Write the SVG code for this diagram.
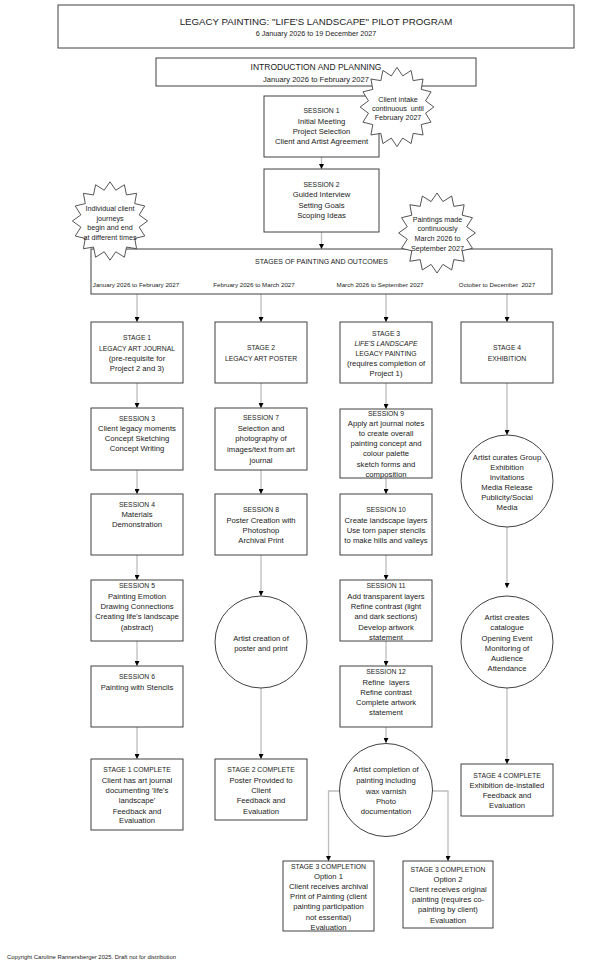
<svg xmlns="http://www.w3.org/2000/svg" xmlns:xlink="http://www.w3.org/1999/xlink" width="600" height="969" viewBox="0 0 600 969">
<style>
.box{fill:#fff;stroke:#404040;stroke-width:1}
.t{font-family:"Liberation Sans",Arial,sans-serif;font-size:7.7px;fill:#222;text-anchor:middle;dominant-baseline:central}
.h{font-size:6.8px}
.sb{font-size:7.2px}
.conn{stroke:#bdbdbd;stroke-width:1.3;fill:none;marker-end:url(#ah)}
</style>
<defs>
<marker id="ah" markerWidth="5" markerHeight="5" refX="5" refY="2.5" orient="auto" markerUnits="userSpaceOnUse"><path d="M0,0 L5,2.5 L0,5 z" fill="#000"/></marker>
<polygon id="star" points="38,0 29.42,6.24 35.11,15.31 24.95,17.78 26.87,28.28 16.67,26.61 14.54,36.96 5.85,31.39 0,40 -5.85,31.39 -14.54,36.96 -16.67,26.61 -26.87,28.28 -24.95,17.78 -35.11,15.31 -29.42,6.24 -38,0 -29.42,-6.24 -35.11,-15.31 -24.95,-17.78 -26.87,-28.28 -16.67,-26.61 -14.54,-36.96 -5.85,-31.39 0,-40 5.85,-31.39 14.54,-36.96 16.67,-26.61 26.87,-28.28 24.95,-17.78 35.11,-15.31 29.42,-6.24" fill="#fff" stroke="#404040" stroke-width="0.9"/>
</defs>

<g id="connectors">
<path class="conn" d="M321.5,157 V169"/>
<path class="conn" d="M321.5,232 V249"/>
<path class="conn" d="M137,294 V322"/>
<path class="conn" d="M261,294 V322"/>
<path class="conn" d="M386,294 V322"/>
<path class="conn" d="M507,294 V322"/>
<path class="conn" d="M137,383 V408"/>
<path class="conn" d="M137,470 V494"/>
<path class="conn" d="M137,555 V580"/>
<path class="conn" d="M137,641 V666"/>
<path class="conn" d="M137,727 V759"/>
<path class="conn" d="M261,383 V408"/>
<path class="conn" d="M261,470 V494"/>
<path class="conn" d="M261,555 V596"/>
<path class="conn" d="M261,688 V759"/>
<path class="conn" d="M386,383 V409"/>
<path class="conn" d="M386,478 V494"/>
<path class="conn" d="M386,555 V580"/>
<path class="conn" d="M386,641 V666"/>
<path class="conn" d="M386,727 V743"/>
<path class="conn" d="M507,383 V435"/>
<path class="conn" d="M507,527 V588"/>
<path class="conn" d="M507,688 V764"/>
<path class="conn" d="M340,791 H328.5 V861"/>
<path class="conn" d="M432.5,791 H448 V861"/>
</g>

<g id="title">
<rect class="box" x="58" y="5" width="516" height="43"/>
<text class="t" style="font-size:9.7px"><tspan x="316" y="21">LEGACY PAINTING: "LIFE'S LANDSCAPE" PILOT PROGRAM</tspan></text>
<text class="t" style="font-size:7.2px"><tspan x="316" y="33">6 January 2026 to 19 December 2027</tspan></text>
</g>

<g id="intro">
<rect class="box" x="156" y="58" width="320" height="28"/>
<text class="t" style="font-size:8.5px"><tspan x="316" y="66.5">INTRODUCTION AND PLANNING</tspan></text>
<text class="t" style="font-size:7.6px"><tspan x="316" y="78.5">January 2026 to February 2027</tspan></text>
</g>

<g id="session1">
<rect class="box" x="264" y="96" width="115" height="61"/>
<text class="t"><tspan class="h" x="321.5" y="110">SESSION 1</tspan><tspan x="321.5" y="120.5">Initial Meeting</tspan><tspan x="321.5" y="131">Project Selection</tspan><tspan x="321.5" y="141">Client and Artist Agreement</tspan></text>
</g>

<g id="session2">
<rect class="box" x="264" y="169" width="115" height="63"/>
<text class="t"><tspan class="h" x="321.5" y="184">SESSION 2</tspan><tspan x="321.5" y="194">Guided Interview</tspan><tspan x="321.5" y="204.5">Setting Goals</tspan><tspan x="321.5" y="215">Scoping Ideas</tspan></text>
</g>

<g id="stages">
<rect class="box" x="91" y="249" width="461" height="45"/>
<text class="t" style="font-size:7px"><tspan x="321.5" y="261">STAGES OF PAINTING AND OUTCOMES</tspan></text>
<text class="t" style="font-size:6.2px" xml:space="preserve"><tspan x="136" y="283.5">January 2026 to February 2027</tspan><tspan x="254" y="283.5">February 2026 to March 2027</tspan><tspan x="380" y="283.5">March 2026 to September 2027</tspan><tspan x="497" y="283.5">October to December  2027</tspan></text>
</g>

<g id="stage1">
<rect class="box" x="91" y="322" width="92" height="61"/>
<text class="t"><tspan class="h" x="137" y="337">STAGE 1</tspan><tspan class="h" x="137" y="348">LEGACY ART JOURNAL</tspan><tspan x="137" y="358">(pre-requisite for</tspan><tspan x="137" y="368">Project 2 and 3)</tspan></text>
</g>
<g id="stage2">
<rect class="box" x="215" y="322" width="92" height="61"/>
<text class="t"><tspan class="h" x="261" y="347">STAGE 2</tspan><tspan class="h" x="261" y="358">LEGACY ART POSTER</tspan></text>
</g>
<g id="stage3">
<rect class="box" x="340" y="322" width="92" height="61"/>
<text class="t"><tspan class="h" x="386" y="333">STAGE 3</tspan><tspan class="h" x="386" y="343" font-style="italic">LIFE'S LANDSCAPE</tspan><tspan class="h" x="386" y="353">LEGACY PAINTING</tspan><tspan x="386" y="363">(requires completion of</tspan><tspan x="386" y="373">Project 1)</tspan></text>
</g>
<g id="stage4">
<rect class="box" x="461" y="322" width="92" height="61"/>
<text class="t"><tspan class="h" x="507" y="347">STAGE 4</tspan><tspan class="h" x="507" y="358">EXHIBITION</tspan></text>
</g>

<g id="session3">
<rect class="box" x="91" y="408" width="92" height="62"/>
<text class="t"><tspan class="h" x="137" y="418">SESSION 3</tspan><tspan x="137" y="428">Client legacy moments</tspan><tspan x="137" y="438">Concept Sketching</tspan><tspan x="137" y="448">Concept Writing</tspan></text>
</g>
<g id="session7">
<rect class="box" x="215" y="408" width="92" height="62"/>
<text class="t"><tspan class="h" x="261" y="417">SESSION 7</tspan><tspan x="261" y="427.5">Selection and</tspan><tspan x="261" y="438">photography of</tspan><tspan x="261" y="449">images/text from art</tspan><tspan x="261" y="460">journal</tspan></text>
</g>
<g id="session9">
<rect class="box" x="340" y="409" width="92" height="69"/>
<text class="t"><tspan class="h" x="386" y="412.5">SESSION 9</tspan><tspan x="386" y="423">Apply art journal notes</tspan><tspan x="386" y="433">to create overall</tspan><tspan x="386" y="443">painting concept and</tspan><tspan x="386" y="453">colour palette</tspan><tspan x="386" y="464">sketch forms and</tspan><tspan x="386" y="474">composition</tspan></text>
</g>

<g id="session4">
<rect class="box" x="91" y="494" width="92" height="61"/>
<text class="t"><tspan class="h" x="137" y="504">SESSION 4</tspan><tspan x="137" y="514">Materials</tspan><tspan x="137" y="524">Demonstration</tspan></text>
</g>
<g id="session8">
<rect class="box" x="215" y="494" width="92" height="61"/>
<text class="t"><tspan class="h" x="261" y="509">SESSION 8</tspan><tspan x="261" y="520">Poster Creation with</tspan><tspan x="261" y="530">Photoshop</tspan><tspan x="261" y="540">Archival Print</tspan></text>
</g>
<g id="session10">
<rect class="box" x="340" y="494" width="92" height="61"/>
<text class="t"><tspan class="h" x="386" y="509">SESSION 10</tspan><tspan x="386" y="520">Create landscape layers</tspan><tspan x="386" y="530">Use torn paper stencils</tspan><tspan x="386" y="540">to make hills and valleys</tspan></text>
</g>
<g id="curates">
<circle class="box" cx="507" cy="481" r="46"/>
<text class="t"><tspan x="507" y="457">Artist curates Group</tspan><tspan x="507" y="467">Exhibition</tspan><tspan x="507" y="477">Invitations</tspan><tspan x="507" y="487">Media Release</tspan><tspan x="507" y="497">Publicity/Social</tspan><tspan x="507" y="507">Media</tspan></text>
</g>

<g id="session5">
<rect class="box" x="91" y="580" width="92" height="61"/>
<text class="t"><tspan class="h" x="137" y="585">SESSION 5</tspan><tspan x="137" y="596">Painting Emotion</tspan><tspan x="137" y="606">Drawing Connections</tspan><tspan x="137" y="616">Creating life's landscape</tspan><tspan x="137" y="627">(abstract)</tspan></text>
</g>
<g id="poster-creation">
<circle class="box" cx="261" cy="642" r="46"/>
<text class="t"><tspan x="261" y="638">Artist creation of</tspan><tspan x="261" y="648">poster and print</tspan></text>
</g>
<g id="session11">
<rect class="box" x="340" y="580" width="92" height="61"/>
<text class="t"><tspan class="h" x="386" y="585">SESSION 11</tspan><tspan x="386" y="596">Add transparent layers</tspan><tspan x="386" y="606">Refine contrast (light</tspan><tspan x="386" y="616">and dark sections)</tspan><tspan x="386" y="627">Develop artwork</tspan><tspan x="386" y="637">statement</tspan></text>
</g>
<g id="catalogue">
<circle class="box" cx="507" cy="642" r="46"/>
<text class="t"><tspan x="507" y="617">Artist creates</tspan><tspan x="507" y="627">catalogue</tspan><tspan x="507" y="638">Opening Event</tspan><tspan x="507" y="648">Monitoring of</tspan><tspan x="507" y="658">Audience</tspan><tspan x="507" y="668">Attendance</tspan></text>
</g>

<g id="session6">
<rect class="box" x="91" y="666" width="92" height="61"/>
<text class="t"><tspan class="h" x="137" y="676">SESSION 6</tspan><tspan x="137" y="687">Painting with Stencils</tspan></text>
</g>
<g id="session12">
<rect class="box" x="340" y="666" width="92" height="61"/>
<text class="t" xml:space="preserve"><tspan class="h" x="386" y="671">SESSION 12</tspan><tspan x="386" y="682">Refine  layers</tspan><tspan x="386" y="692">Refine contrast</tspan><tspan x="386" y="702">Complete artwork</tspan><tspan x="386" y="712">statement</tspan></text>
</g>

<g id="stage1-complete">
<rect class="box" x="91" y="759" width="92" height="71"/>
<text class="t"><tspan class="h" x="137" y="769">STAGE 1 COMPLETE</tspan><tspan x="137" y="780">Client has art journal</tspan><tspan x="137" y="790">documenting 'life's</tspan><tspan x="137" y="800">landscape'</tspan><tspan x="137" y="811">Feedback and</tspan><tspan x="137" y="820">Evaluation</tspan></text>
</g>
<g id="stage2-complete">
<rect class="box" x="215" y="759" width="92" height="61"/>
<text class="t"><tspan class="h" x="261" y="769">STAGE 2 COMPLETE</tspan><tspan x="261" y="780">Poster Provided to</tspan><tspan x="261" y="790">Client</tspan><tspan x="261" y="800">Feedback and</tspan><tspan x="261" y="811">Evaluation</tspan></text>
</g>
<g id="painting-completion">
<circle class="box" cx="386" cy="790" r="46.5"/>
<text class="t"><tspan x="386" y="769">Artist completion of</tspan><tspan x="386" y="780">painting including</tspan><tspan x="386" y="791">wax varnish</tspan><tspan x="386" y="801">Photo</tspan><tspan x="386" y="811">documentation</tspan></text>
</g>
<g id="stage4-complete">
<rect class="box" x="461" y="764" width="92" height="52"/>
<text class="t"><tspan class="h" x="507" y="775">STAGE 4 COMPLETE</tspan><tspan x="507" y="785">Exhibition de-installed</tspan><tspan x="507" y="795">Feedback and</tspan><tspan x="507" y="805">Evaluation</tspan></text>
</g>

<g id="option1">
<rect class="box" x="283" y="861" width="91" height="70"/>
<text class="t"><tspan class="h" x="328.5" y="866">STAGE 3 COMPLETION</tspan><tspan x="328.5" y="876">Option 1</tspan><tspan x="328.5" y="886">Client receives archival</tspan><tspan x="328.5" y="896">Print of Painting (client</tspan><tspan x="328.5" y="906">painting participation</tspan><tspan x="328.5" y="917">not essential)</tspan><tspan x="328.5" y="927">Evaluation</tspan></text>
</g>
<g id="option2">
<rect class="box" x="403" y="861" width="90" height="67"/>
<text class="t"><tspan class="h" x="448" y="869">STAGE 3 COMPLETION</tspan><tspan x="448" y="879">Option 2</tspan><tspan x="448" y="889">Client receives original</tspan><tspan x="448" y="899">painting (requires co-</tspan><tspan x="448" y="909">painting by client)</tspan><tspan x="448" y="920">Evaluation</tspan></text>
</g>

<g id="burst-intake">
<use xlink:href="#star" href="#star" transform="translate(397,107) scale(0.97,0.99)"/>
<text class="t sb" xml:space="preserve"><tspan x="398" y="99">Client intake</tspan><tspan x="398" y="108">continuous  until</tspan><tspan x="398" y="117">February 2027</tspan></text>
</g>
<g id="burst-journeys">
<use xlink:href="#star" href="#star" transform="translate(110,221) scale(0.99,0.98)"/>
<text class="t sb"><tspan x="110" y="208">Individual client</tspan><tspan x="110" y="218">journeys</tspan><tspan x="110" y="227">begin and end</tspan><tspan x="110" y="237">at different times</tspan></text>
</g>
<g id="burst-paintings">
<use xlink:href="#star" href="#star" transform="translate(437,233) scale(1.01,1)"/>
<text class="t sb"><tspan x="437.5" y="219">Paintings made</tspan><tspan x="437.5" y="228">continuously</tspan><tspan x="437.5" y="238">March 2026 to</tspan><tspan x="437.5" y="248">September 2027</tspan></text>
</g>

<g id="copyright">
<text style="font-family:'Liberation Sans',Arial,sans-serif;font-size:5.9px;fill:#222;dominant-baseline:central"><tspan x="7" y="957">Copyright Caroline Rannersberger 2025. Draft not for distribution</tspan></text>
</g>
</svg>
